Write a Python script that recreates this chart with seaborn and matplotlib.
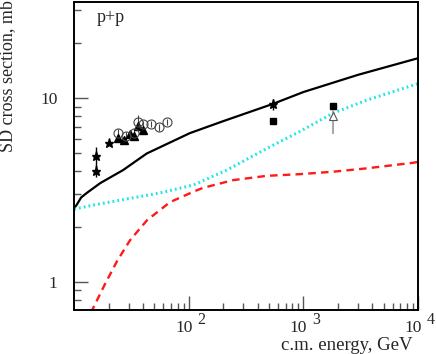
import numpy as np
import pandas as pd
import seaborn as sns
import matplotlib.pyplot as plt
from matplotlib.ticker import FixedLocator, FixedFormatter, NullFormatter

# model curves (energy GeV, SD cross section mb)
black_E = [10, 10.5, 11.5, 12.9, 16.9, 26.7, 43, 102, 200, 540, 1000, 3000, 10000]
black_y = [2.52, 2.62, 2.88, 3.05, 3.45, 4.06, 5.0, 6.45, 7.5, 9.3, 10.8, 13.4, 16.5]

cyan_E = [10, 14.7, 28.9, 56, 110, 214, 500, 935, 1820, 3560, 10000]
cyan_y = [2.49, 2.62, 2.83, 3.05, 3.37, 4.06, 5.4, 6.6, 8.3, 9.75, 12.0]

red_E = [14.0, 18.6, 23.7, 30.8, 43.3, 68.7, 110, 133, 243, 479, 933, 1820, 3550, 9000, 10000]
red_y = [0.68, 0.975, 1.30, 1.69, 2.17, 2.72, 3.1, 3.25, 3.58, 3.78, 3.86, 3.98, 4.15, 4.45, 4.5]

# data points
star_E = [15.4, 15.6, 20.3, 540]
star_y = [4.03, 4.84, 5.68, 9.3]
star_err = [0.3, 0.6, 0.15, 0.65]

circ_E = [24.0, 28.4, 33.3, 36.4, 40.2, 46.6, 54.7, 64.3]
circ_y = [6.48, 6.21, 6.48, 7.41, 7.23, 7.23, 6.93, 7.41]
circ_err = [0.3, 0.3, 0.3, 0.7, 0.3, 0.3, 0.3, 0.3]

tri_E = [24.0, 27.3, 30.8, 33.3, 36.4, 39.7]
tri_y = [6.08, 5.91, 6.35, 6.21, 7.05, 6.70]

sq_E = [540, 1800]
sq_y = [7.53, 9.08]

otri_E = [1800]
otri_y = [7.98]
otri_lo = [1.63]
otri_hi = [0.62]

xmajor = [100, 1000, 10000]
xexp = ['2', '3', '4']

sns.set_style('ticks')
plt.rcParams['font.family'] = ['Liberation Serif', 'DejaVu Serif']

fig = plt.figure(figsize=(4.36, 3.54), dpi=100)
ax = fig.add_axes([0.170, 0.124, 0.789, 0.870])

sns.lineplot(x=black_E, y=black_y, ax=ax, color='black', lw=1.6, sort=False)
sns.lineplot(x=cyan_E, y=cyan_y, ax=ax, color='#22e5e5', lw=2.2, sort=False,
             linestyle=(0, (0.6, 1.0)))
sns.lineplot(x=red_E, y=red_y, ax=ax, color='#ff1a1a', lw=1.7, sort=False,
             linestyle=(0, (3.2, 2.2)))

ax.errorbar(star_E, star_y, yerr=star_err, fmt='*', color='black', ms=6.5,
            ecolor='black', elinewidth=1, capsize=0)
ax.errorbar(circ_E, circ_y, yerr=circ_err, fmt='o', mfc='none', mec='#444444',
            ms=6.5, mew=0.8, ecolor='#444444', elinewidth=0.8, capsize=0)
ax.plot(tri_E, tri_y, '^', color='black', ms=5.5)
ax.plot(sq_E, sq_y, 's', color='black', ms=5)
ax.errorbar(otri_E, otri_y, yerr=[otri_lo, otri_hi], fmt='^', mfc='white',
            mec='#555555', ms=5.5, mew=0.8, ecolor='#aaaaaa', elinewidth=1.5,
            capsize=0)

ax.set_xscale('log')
ax.set_yscale('log')
ax.set_xlim(10, 10000)
ax.set_ylim(0.703, 33.3)

ax.xaxis.set_major_locator(FixedLocator(xmajor))
ax.xaxis.set_major_formatter(NullFormatter())
xminor = [m * d for d in [10, 100, 1000] for m in range(2, 10)]
ax.xaxis.set_minor_locator(FixedLocator(xminor))
ax.xaxis.set_minor_formatter(NullFormatter())

# ROOT-style tick labels: "10" with a large exponent
for t, e in zip(xmajor, xexp):
    ax.annotate('10', xy=(t, 0), xycoords=('data', 'axes fraction'),
                xytext=(-3.6, -6.8), textcoords='offset points',
                ha='center', va='top', fontsize=12.5, annotation_clip=False)
    ax.annotate(e, xy=(t, 0), xycoords=('data', 'axes fraction'),
                xytext=(6.0, -1.2), textcoords='offset points',
                ha='left', va='top', fontsize=11.5, annotation_clip=False)

ax.yaxis.set_major_locator(FixedLocator([1, 10]))
ax.yaxis.set_major_formatter(FixedFormatter(['1', '10']))
yminor = [0.8, 0.9] + [m for m in range(2, 10)] + [20, 30]
ax.yaxis.set_minor_locator(FixedLocator(yminor))
ax.yaxis.set_minor_formatter(NullFormatter())

ax.tick_params(which='both', direction='in', color='#555555', width=1,
               labelsize=12.5)
ax.tick_params(which='major', length=10)
ax.tick_params(which='minor', length=5)
ax.tick_params(axis='y', pad=12)

for s in ax.spines.values():
    s.set_linewidth(1.4)
    s.set_color('black')

ax.set_xlabel('c.m. energy, GeV', fontsize=13.5, ha='right')
ax.xaxis.set_label_coords(0.983, -0.087)
ax.set_ylabel('SD cross section, mb', fontsize=13, ha='right')
ax.yaxis.set_label_coords(-0.168, 1.006)
ax.text(0.067, 0.978, 'p+p', transform=ax.transAxes, fontsize=13,
        va='top', ha='left')

fig.savefig('out.png', dpi=100)
